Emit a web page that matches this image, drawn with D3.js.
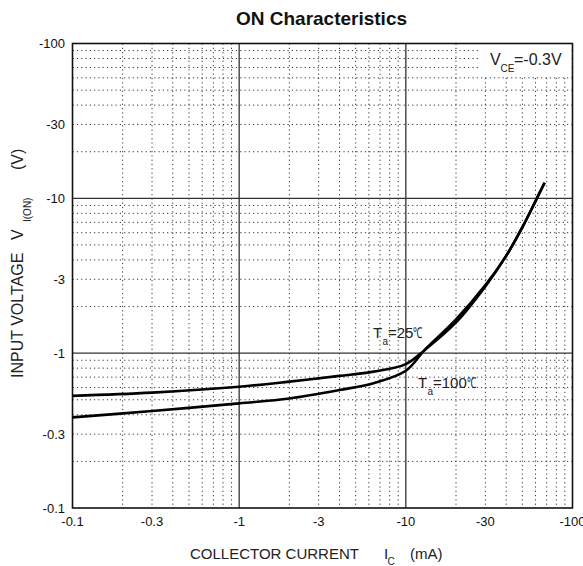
<!DOCTYPE html>
<html>
<head>
<meta charset="utf-8">
<script src="https://cdn.jsdelivr.net/npm/d3@7"></script>
<style>
  html, body { margin: 0; padding: 0; background: #fff; }
  svg { display: block; font-family: "Liberation Sans", Arial, sans-serif; }
</style>
</head>
<body>
<svg id="chart" width="583" height="566"></svg>
<script>
// Magnitudes only; the sheet labels everything with a minus sign (PNP part).
const collectorCurrent = [0.1, 0.3, 1, 2, 4, 6.4, 10, 13, 20, 30, 40, 50, 60, 68];   // -Ic (mA)
const inputVoltage25 = [0.53, 0.556, 0.607, 0.655, 0.713, 0.76, 0.85, 1.05, 1.58, 2.70, 4.25, 6.5, 9.6, 12.6]; // Ta=25
const inputVoltage100 = [0.385, 0.423, 0.474, 0.51, 0.578, 0.64, 0.77, 1.05, 1.65, 2.75, 4.25, 6.5, 9.6, 12.6]; // Ta=100
const xTickValues = [0.1, 0.3, 1, 3, 10, 30, 100];
const yTickValues = [0.1, 0.3, 1, 3, 10, 30, 100];
const decades = [0.1, 1, 10, 100];

(function () {
  "use strict";

  const svg = d3.select("#chart");
  const left = 72.5, right = 572.5, top = 43.5, bottom = 508;

  const x = d3.scaleLog().domain([0.1, 100]).range([left, right]);
  const y = d3.scaleLog().domain([0.1, 100]).range([bottom, top]);

  // minor values 2..9 in each decade
  const minors = [];
  decades.slice(0, -1).forEach((d) => {
    for (let k = 2; k <= 9; k++) minors.push(d * k);
  });

  const grid = svg.append("g");
  grid.selectAll("line.hmin").data(minors).join("line")
    .attr("x1", left).attr("x2", right)
    .attr("y1", (v) => y(v)).attr("y2", (v) => y(v))
    .attr("stroke", "#333").attr("stroke-width", 1)
    .attr("stroke-dasharray", "1.2,3.1");
  grid.selectAll("line.vmin").data(minors).join("line")
    .attr("y1", top).attr("y2", bottom)
    .attr("x1", (v) => x(v)).attr("x2", (v) => x(v))
    .attr("stroke", "#333").attr("stroke-width", 1)
    .attr("stroke-dasharray", "1.2,3.1");

  // white box behind the V_CE note
  svg.append("rect")
    .attr("x", 480).attr("y", top + 0.5).attr("width", right - 480 - 1).attr("height", 33)
    .attr("fill", "#fff");

  const inner = decades.slice(1, -1);
  grid.selectAll("line.hmaj").data(inner).join("line")
    .attr("x1", left).attr("x2", right)
    .attr("y1", (v) => y(v)).attr("y2", (v) => y(v))
    .attr("stroke", "#333").attr("stroke-width", 1.3);
  svg.append("g").selectAll("line").data(inner).join("line")
    .attr("y1", top).attr("y2", bottom)
    .attr("x1", (v) => x(v)).attr("x2", (v) => x(v))
    .attr("stroke", "#333").attr("stroke-width", 1.3);

  svg.append("rect")
    .attr("x", left).attr("y", top).attr("width", right - left).attr("height", bottom - top)
    .attr("fill", "none").attr("stroke", "#111").attr("stroke-width", 1.6);

  // curves
  const line = d3.line()
    .x((d) => x(d[0])).y((d) => y(d[1]))
    .curve(d3.curveCatmullRom.alpha(0.5));
  [inputVoltage25, inputVoltage100].forEach((vals) => {
    svg.append("path")
      .attr("d", line(collectorCurrent.map((c, i) => [c, vals[i]])))
      .attr("fill", "none").attr("stroke", "#000")
      .attr("stroke-width", 2.6).attr("stroke-linejoin", "round");
  });

  // tick labels
  svg.append("g").selectAll("text").data(xTickValues).join("text")
    .attr("x", (v) => x(v)).attr("y", 526)
    .attr("text-anchor", "middle").attr("font-size", 13).attr("fill", "#111")
    .text((v) => "-" + v);
  svg.append("g").selectAll("text").data(yTickValues).join("text")
    .attr("x", 65).attr("y", (v) => y(v) + 4.5)
    .attr("text-anchor", "end").attr("font-size", 13).attr("fill", "#111")
    .text((v) => "-" + v);

  // title
  svg.append("text")
    .attr("x", 321.5).attr("y", 25)
    .attr("text-anchor", "middle").attr("font-size", 19).attr("font-weight", "bold")
    .attr("fill", "#111")
    .text("ON Characteristics");

  // x axis title
  const xl = svg.append("g").attr("fill", "#222");
  xl.append("text").attr("x", 190).attr("y", 559).attr("font-size", 15).text("COLLECTOR CURRENT");
  xl.append("text").attr("x", 384).attr("y", 559).attr("font-size", 15).text("I");
  xl.append("text").attr("x", 387.5).attr("y", 564.5).attr("font-size", 10).text("C");
  xl.append("text").attr("x", 410).attr("y", 559).attr("font-size", 15).text("(mA)");

  // y axis title (rotated; local x runs upward)
  const yl = svg.append("g").attr("fill", "#222").attr("transform", "translate(23,378) rotate(-90)");
  yl.append("text").attr("x", 0).attr("y", 0).attr("font-size", 16).text("INPUT VOLTAGE");
  yl.append("text").attr("x", 138).attr("y", 0).attr("font-size", 16).text("V");
  yl.append("text").attr("x", 156).attr("y", 8).attr("font-size", 10).text("I(ON)");
  yl.append("text").attr("x", 208).attr("y", 0).attr("font-size", 16).text("(V)");

  // V_CE note
  const note = svg.append("g").attr("fill", "#222");
  note.append("text").attr("x", 490).attr("y", 65).attr("font-size", 16).text("V");
  note.append("text").attr("x", 500.5).attr("y", 72).attr("font-size", 10).text("CE");
  note.append("text").attr("x", 514).attr("y", 65).attr("font-size", 16).text("=-0.3V");

  // temperature labels, with a narrowed degree-Celsius sign
  function tempLabel(tx, ty, value) {
    const g = svg.append("g").attr("fill", "#222");
    g.append("text").attr("x", tx).attr("y", ty).attr("font-size", 15).text("T");
    g.append("text").attr("x", tx + 9.5).attr("y", ty + 7).attr("font-size", 10).text("a");
    const main = g.append("text").attr("x", tx + 15).attr("y", ty).attr("font-size", 15).text("=" + value);
    const w = main.node().getComputedTextLength();
    g.append("text")
      .attr("transform", `translate(${tx + 15 + w},${ty}) scale(0.62,1)`)
      .attr("font-size", 15).text("\u2103");
  }
  tempLabel(373, 338, 25);
  tempLabel(418, 388, 100);
})();
</script>
</body>
</html>
